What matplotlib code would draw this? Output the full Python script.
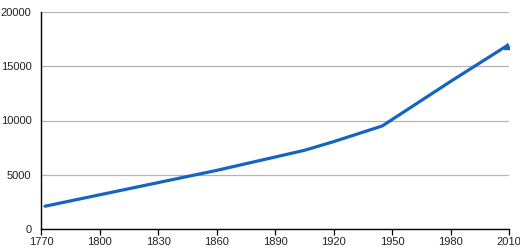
import matplotlib.pyplot as plt

anios = [1772, 1860, 1905, 1920, 1945, 1980, 2009]
valores = [2100, 5400, 7250, 8050, 9500, 13600, 16900]
xticks = [1770, 1800, 1830, 1860, 1890, 1920, 1950, 1980, 2010]
yticks = [0, 5000, 10000, 15000, 20000]

plt.rcParams['font.family'] = ['Liberation Sans', 'DejaVu Sans']

fig = plt.figure(figsize=(5.2, 2.5), dpi=100)
ax = fig.add_axes([0.079, 0.084, 0.9, 0.868])

ax.plot(anios, valores, color='#1565c0', linewidth=2.3, solid_capstyle='round')
ax.plot(anios[-1:], valores[-1:], marker='^', color='#1565c0', markersize=4)

ax.set_xlim(1770, 2010)
ax.set_ylim(0, 20000)
ax.set_xticks(xticks)
ax.set_yticks(yticks)
ax.grid(axis='y', color='#b4b4b4', linewidth=0.9)
ax.set_axisbelow(True)

for lado in ['top', 'right']:
    ax.spines[lado].set_visible(False)
ax.spines['left'].set_linewidth(1.0)
ax.spines['bottom'].set_linewidth(1.0)

ax.tick_params(axis='x', length=4, width=0.9, labelsize=8, pad=2, labelcolor='#222222')
ax.tick_params(axis='y', length=0, labelsize=8, pad=7, labelcolor='#222222')

fig.savefig('out.png', dpi=100)
